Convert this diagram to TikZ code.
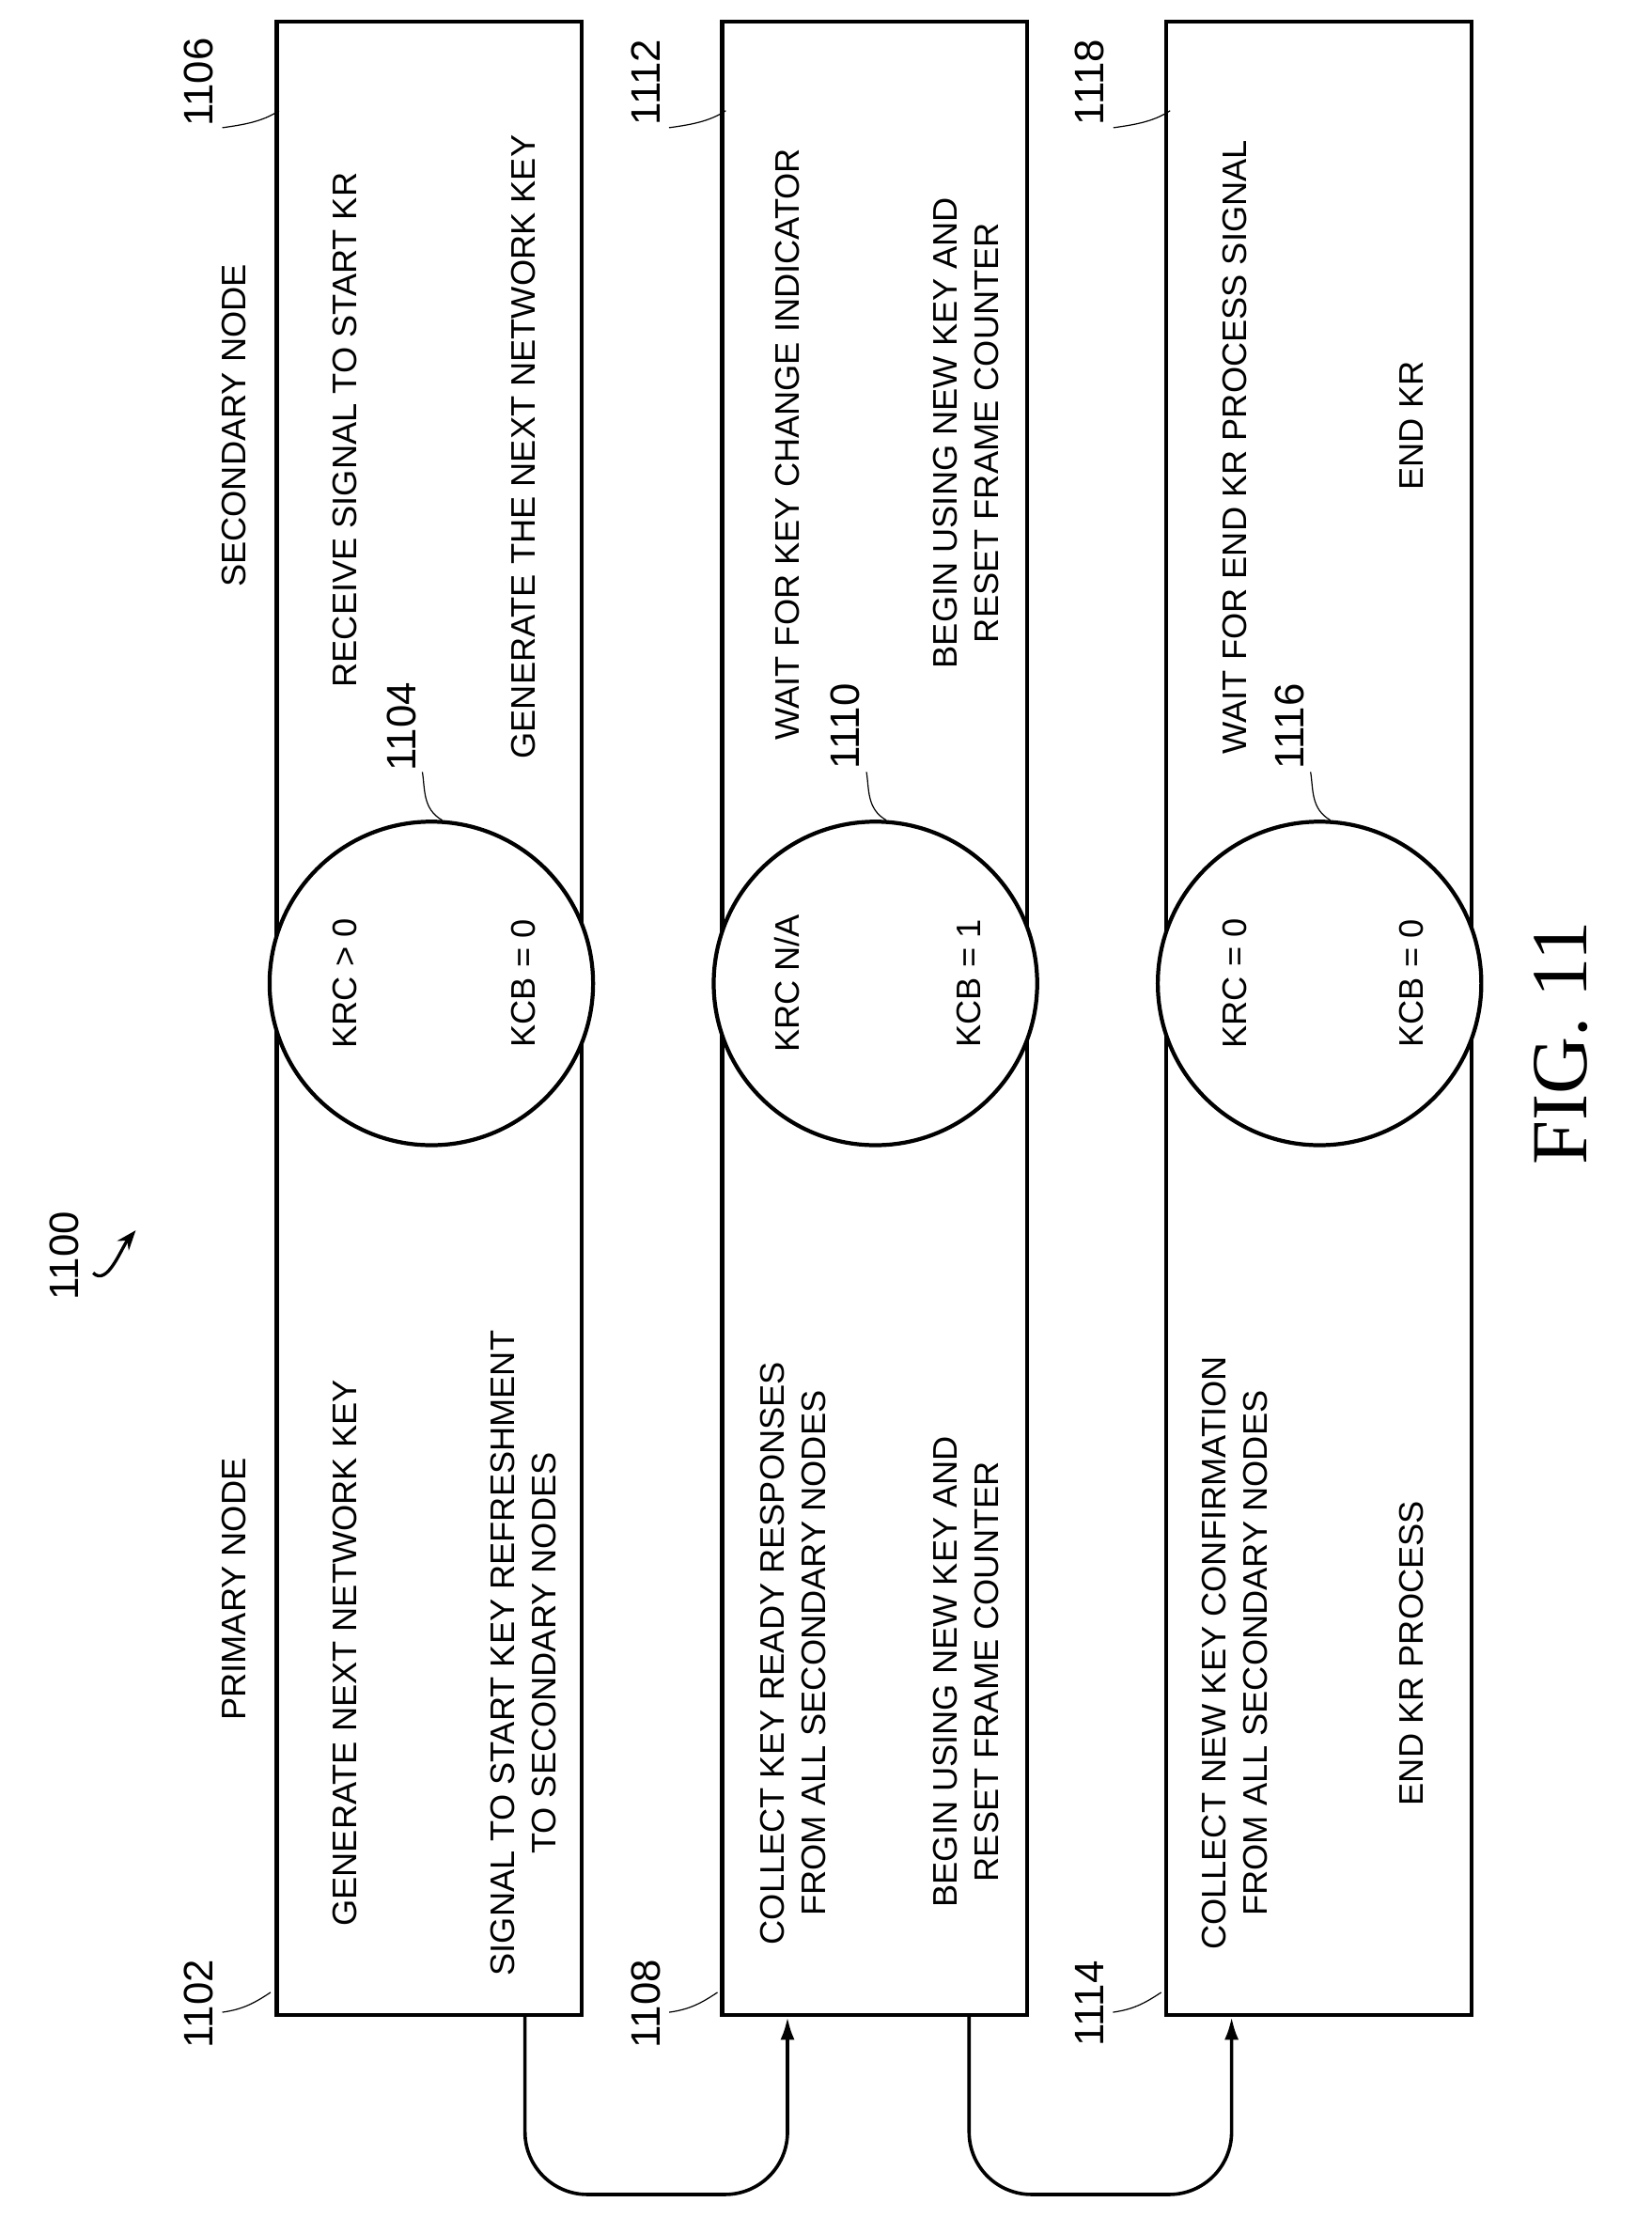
\documentclass[tikz,border=0pt]{standalone}
\usepackage{fontspec}
\setmainfont{Liberation Sans}
\newfontfamily\figfont{Liberation Serif}
\usetikzlibrary{positioning, arrows.meta}
\tikzset{
  stagebox/.style={draw, line width=1.4pt, minimum width=107.5pt, minimum height=702.5pt, inner sep=0pt},
  statecircle/.style={circle, draw, line width=1.4pt, fill=white, minimum size=114pt, inner sep=0pt},
  lbl/.style={rotate=90, font=\fontsize{12}{14.5}\selectfont, align=center, inner sep=0pt},
  refnum/.style={rotate=90, font=\fontsize{14.5}{16}\selectfont, inner sep=0pt},
  flow/.style={line width=1.2pt, -{Latex[length=8pt,width=5pt]}, rounded corners=22pt},
  leader/.style={thin}
}
\begin{document}
\begin{tikzpicture}[x=0.5pt, y=-0.5pt]
  \useasboundingbox (0,0) rectangle (1164,1563);

  % Stage boxes
  \node[stagebox] (box1) at (302.5,717.5) {};
  \node[stagebox] (box2) at (616.5,717.5) {};
  \node[stagebox] (box3) at (929.5,717.5) {};

  % State circles
  \node[statecircle] (state1) at (304,693) {};
  \node[statecircle] (state2) at (617,693) {};
  \node[statecircle] (state3) at (930,693) {};

  % Column headings
  \node[lbl] (primary) at (165,1120) {PRIMARY NODE};
  \node[lbl] (secondary) at (165,300) {SECONDARY NODE};

  % Stage 1
  \node[lbl] (gen1) at (243,1165) {GENERATE NEXT NETWORK KEY};
  \node[lbl] (sig1) at (369,1165) {SIGNAL TO START KEY REFRESHMENT\\TO SECONDARY NODES};
  \node[lbl] (krc1) at (243,693) {KRC > 0};
  \node[lbl] (kcb1) at (369,693) {KCB = 0};
  \node[lbl] (recv1) at (243,303) {RECEIVE SIGNAL TO START KR};
  \node[lbl] (gen1b) at (369,315) {GENERATE THE NEXT NETWORK KEY};

  % Stage 2
  \node[lbl] (coll2) at (559,1165) {COLLECT KEY READY RESPONSES\\FROM ALL SECONDARY NODES};
  \node[lbl] (begin2) at (681,1178) {BEGIN USING NEW KEY AND\\RESET FRAME COUNTER};
  \node[lbl] (krc2) at (555,693) {KRC N/A};
  \node[lbl] (kcb2) at (683,693) {KCB = 1};
  \node[lbl] (wait2) at (555,313) {WAIT FOR KEY CHANGE INDICATOR};
  \node[lbl] (begin2b) at (681,305) {BEGIN USING NEW KEY AND\\RESET FRAME COUNTER};

  % Stage 3
  \node[lbl] (coll3) at (870,1165) {COLLECT NEW KEY CONFIRMATION\\FROM ALL SECONDARY NODES};
  \node[lbl] (end3) at (995,1165) {END KR PROCESS};
  \node[lbl] (krc3) at (870,693) {KRC = 0};
  \node[lbl] (kcb3) at (995,693) {KCB = 0};
  \node[lbl] (wait3) at (870,315) {WAIT FOR END KR PROCESS SIGNAL};
  \node[lbl] (end3b) at (995,300) {END KR};

  % Reference numerals
  \node[refnum] (n1100) at (45,885) {1100};
  \node[refnum] (n1102) at (140,1412) {1102};
  \node[refnum] (n1106) at (140,58) {1106};
  \node[refnum] (n1104) at (283,512) {1104};
  \node[refnum] (n1108) at (455,1412) {1108};
  \node[refnum] (n1112) at (455,58) {1112};
  \node[refnum] (n1110) at (596,512) {1110};
  \node[refnum] (n1114) at (768,1412) {1114};
  \node[refnum] (n1118) at (768,58) {1118};
  \node[refnum] (n1116) at (909,512) {1116};
  \node[rotate=90, font=\figfont\fontsize{28}{30}\selectfont] (fig) at (1100,735) {FIG. 11};

  % Leaders
  \draw[leader] ([xshift=3pt,yshift=-3pt]n1102.south) .. controls +(14,-2) and +(-12,8) .. ++(34,-14);
  \draw[leader] ([xshift=3pt,yshift=-3pt]n1108.south) .. controls +(14,-2) and +(-12,8) .. ++(34,-14);
  \draw[leader] ([xshift=3pt,yshift=-3pt]n1114.south) .. controls +(14,-2) and +(-12,8) .. ++(34,-14);
  \draw[leader] ([xshift=3pt,yshift=-16pt]n1106.south) .. controls +(14,-2) and +(-12,8) .. ++(40,-12);
  \draw[leader] ([xshift=3pt,yshift=-16pt]n1112.south) .. controls +(14,-2) and +(-12,8) .. ++(40,-12);
  \draw[leader] ([xshift=3pt,yshift=-16pt]n1118.south) .. controls +(14,-2) and +(-12,8) .. ++(40,-12);
  \draw[leader] ([xshift=2pt,yshift=-16pt]n1104.south) .. controls +(2,12) and +(-14,-8) .. ++(14,34);
  \draw[leader] ([xshift=2pt,yshift=-16pt]n1110.south) .. controls +(2,12) and +(-14,-8) .. ++(14,34);
  \draw[leader] ([xshift=2pt,yshift=-16pt]n1116.south) .. controls +(2,12) and +(-14,-8) .. ++(14,34);
  \draw[line width=1.1pt, -{Stealth[length=7pt]}] ([xshift=5pt,yshift=-6pt]n1100.south) .. controls +(10,10) and +(-10,12) .. ++(30,-30);

  % Transitions
  \draw[flow] ([xshift=33.75pt]box1.south) -- ++(0,125) -| ([xshift=-30.75pt]box2.south);
  \draw[flow] ([xshift=33.25pt]box2.south) -- ++(0,125) -| ([xshift=-30.75pt]box3.south);
\end{tikzpicture}
\end{document}
